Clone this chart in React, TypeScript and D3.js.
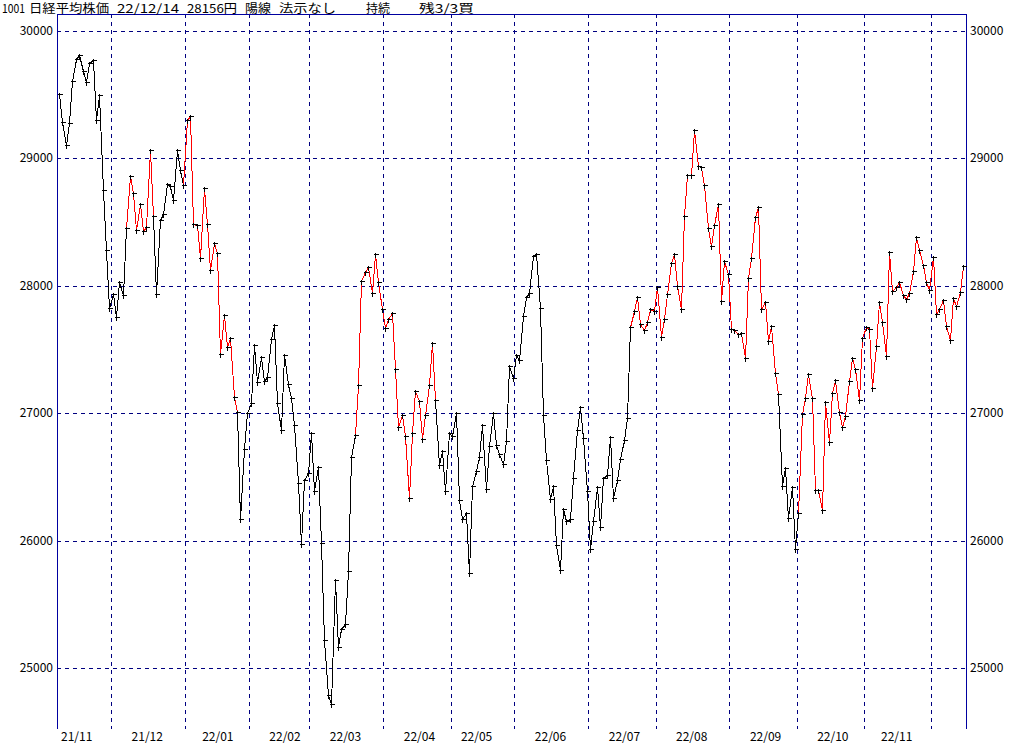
import React from "react";
import * as d3 from "d3";

const monthLabels = ["21/11","21/12","22/01","22/02","22/03","22/04","22/05","22/06","22/07","22/08","22/09","22/10","22/11",""];

const tradingDays: number[][] = [
  [8,9,10,11,12,15,16,17,18,19,22,24,25,26,29,30],
  [1,2,3,6,7,8,9,10,13,14,15,16,17,20,21,22,23,24,27,28,29,30],
  [4,5,6,7,11,12,13,14,17,18,19,20,21,24,25,26,27,28,31],
  [1,2,3,4,7,8,9,10,14,15,16,17,18,21,22,24,25,28],
  [1,2,3,4,7,8,9,10,11,14,15,16,17,18,22,23,24,25,28,29,30,31],
  [1,4,5,6,7,8,11,12,13,14,15,18,19,20,21,22,25,26,27,28],
  [2,6,9,10,11,12,13,16,17,18,19,20,23,24,25,26,27,30,31],
  [1,2,3,6,7,8,9,10,13,14,15,16,17,20,21,22,23,24,27,28,29,30],
  [1,4,5,6,7,8,11,12,13,14,15,19,20,21,22,25,26,27,28,29],
  [1,2,3,4,5,8,9,10,12,15,16,17,18,19,22,23,24,25,26,29,30,31],
  [1,2,5,6,7,8,9,12,13,14,15,16,20,21,22,26,27,28,29,30],
  [3,4,5,6,7,11,12,13,14,17,18,19,20,21,24,25,26,27,28,31],
  [1,2,4,7,8,9,10,11,14,15,16,17,18,21,22,24,25,28,29,30],
  [1,2,5,6,7,8,9,12,13,14],
];

const closes: number[][] = [
  [29507,29285,29106,29278,29610,29777,29808,29688,29598,29745,29774,29302,29499,28752,28284,27822],
  [27935,27753,28030,27927,28456,28860,28725,28437,28640,28432,28459,29066,28545,27937,28517,28562,28798,28782,28676,29069,28906,28792],
  [29302,29332,28488,28479,28222,28766,28489,28124,28334,28257,27467,27773,27522,27588,27131,27011,26170,26717,27002],
  [27078,27534,27241,27440,27249,27285,27580,27696,27080,26865,27460,27233,27122,26911,26450,25971,26477,26527],
  [26845,26393,26577,25985,25221,24791,24718,25690,25163,25308,25346,25762,26653,26827,27224,28040,28110,28150,27944,28252,28027,27821],
  [27666,27736,27788,27350,26889,26986,26822,26335,26843,27172,27093,26800,26985,27218,27553,27105,26591,26700,26387,26848],
  [26819,27004,26319,26167,26214,25749,26428,26547,26660,26911,26403,26739,27002,26748,26678,26605,26782,27369,27280],
  [27458,27414,27762,27916,27944,28234,28247,27824,26987,26630,26326,26431,25963,25771,26246,26150,26171,26492,26871,27049,26805,26393],
  [25936,26154,26423,26108,26491,26517,26812,26337,26479,26643,26788,26962,27680,27803,27915,27699,27655,27716,27815,27802],
  [27993,27595,27742,27932,28176,28249,28000,27819,28547,28872,28869,29223,28942,28930,28795,28453,28313,28479,28641,27879,28196,28092],
  [27661,27651,27620,27627,27430,28065,28215,28542,28615,27819,27876,27568,27688,27313,27154,26432,26572,26174,26422,25937],
  [26216,26992,27121,27311,27116,26401,26397,26237,27091,26776,27156,27257,27007,26891,26975,27250,27432,27345,27105,27587],
  [27679,27663,27200,27528,27872,27716,27446,28264,27963,27990,28028,27931,27900,27945,28116,28383,28283,28163,28028,27969],
  [28226,27778,27820,27886,27686,27574,27901,27842,27955,28156],
];

// colour of the segment that ends at each point: k = black, r = red
const segmentColors: string[] = [
  "kkkkkkkkkkkkkkkk",
  "kkkkkrrrrrrrrkkkkkkkkk",
  "rrrrrrrrrrrrrrrrkkk",
  "kkkkkkkkkkkkkkkkkk",
  "kkkkkkkkkkkkkkrrrrrrrr",
  "rrrrrrrrrrrrrrrrkkkk",
  "kkkkkkkkkkkkkkkkkkk",
  "kkkkkkkkkkkkkkkkkkkkkk",
  "kkkkkkkkkkkkkrrrrrrr",
  "rrrrrrrrrrrrrrrrrrrrrr",
  "rrrrrrrrrrrrrrrkkkkk",
  "krrrrrrrrrrrrrrrrrrr",
  "rrrrrrrrrrrrrrrrrrrr",
  "rrrrrrrrrr",
];

const yTicks = [25000, 26000, 27000, 28000, 29000, 30000];

const headerTexts = ["1001", "日経平均株価", "22/12/14", "28156円", "陽線", "法示なし", "持続", "残3/3買"];

const W = 1024;
const H = 745;
const left = 57;
const right = 966;
const top = 14;
const bottom = 729;
const headerX = [2, 29, 117, 187, 245, 279, 366, 419];
const headerW = [23, 80, 62, 50, 26, 57, 24, 55];

export default function App() {
  const values = closes.flat();
  const cols = segmentColors.join("");
  const n = values.length;
  const x = d3.scaleLinear().domain([0, n - 1]).range([59, 963]);
  const y = d3.scaleLinear().domain([25000, 30000]).range([668, 31]);

  const monthStart: number[] = [];
  let acc = 0;
  tradingDays.forEach((d) => {
    monthStart.push(acc);
    acc += d.length;
  });

  const rx = (v: number) => Math.round(v);
  const line = d3.line<number>().x((d) => rx(x(d)) + 0.5).y((d) => rx(y(values[d])) + 0.5);
  const segs = [] as React.ReactElement[];
  for (let i = 1; i < n; i++) {
    segs.push(
      <path
        key={"s" + i}
        d={line([i - 1, i]) || ""}
        stroke={cols[i] === "r" ? "#ff0000" : "#000000"}
        strokeWidth={1}
        fill="none"
        shapeRendering="crispEdges"
      />
    );
  }

  const markers = values.map((v, i) => {
    const cx = rx(x(i)) + 0.5;
    const cy = rx(y(v)) + 0.5;
    return (
      <path
        key={"m" + i}
        d={`M${cx - 2},${cy}H${cx + 3}M${cx},${cy - 2}V${cy + 3}`}
        stroke="#000"
        strokeWidth={1}
        shapeRendering="crispEdges"
      />
    );
  });

  const monthLines = monthStart.slice(1).map((s, i) => {
    const lx = rx(x(s - 0.5)) + 0.5;
    return (
      <line key={"v" + i} x1={lx} x2={lx} y1={top} y2={bottom} stroke="#000080" strokeDasharray="4,4" shapeRendering="crispEdges" />
    );
  });

  const labels = monthLabels.map((lab, m) => {
    if (!lab) return null;
    const days = tradingDays[m];
    let k = days.findIndex((d) => d >= 8);
    if (k < 0) k = 0;
    const lx = x(monthStart[m] + k) + 2;
    return (
      <text key={"l" + m} x={lx} y={741} fontSize={12} fill="#000">
        {lab}
      </text>
    );
  });

  return (
    <svg
      width={W}
      height={H}
      style={{ position: "absolute", left: 0, top: 0, background: "#fff" }}
      fontFamily="'Noto Sans CJK JP', sans-serif"
    >
      <rect x={0} y={0} width={W} height={H} fill="#fff" />
      {yTicks.map((t) => (
        <line key={"h" + t} x1={left} x2={right} y1={rx(y(t)) + 0.5} y2={rx(y(t)) + 0.5} stroke="#000080" strokeDasharray="4,4" shapeRendering="crispEdges" />
      ))}
      {monthLines}
      <line x1={left + 0.5} x2={left + 0.5} y1={top} y2={bottom} stroke="#0000a0" shapeRendering="crispEdges" />
      <line x1={right + 0.5} x2={right + 0.5} y1={top} y2={bottom} stroke="#0000a0" shapeRendering="crispEdges" />
      <line x1={left} x2={right + 1} y1={top + 0.5} y2={top + 0.5} stroke="#0000a0" shapeRendering="crispEdges" />
      {yTicks.map((t) => (
        <text key={"yl" + t} x={53} y={rx(y(t)) + 4} fontSize={12} textAnchor="end" fill="#000">
          {t}
        </text>
      ))}
      {yTicks.map((t) => (
        <text key={"yr" + t} x={970} y={rx(y(t)) + 4} fontSize={12} textAnchor="start" fill="#000">
          {t}
        </text>
      ))}
      {segs}
      {markers}
      {labels}
      {headerTexts.map((s, i) => (
        <text
          key={"hd" + i}
          x={headerX[i]}
          y={12.5}
          fontSize={12}
          textLength={headerW[i]}
          lengthAdjust="spacingAndGlyphs"
          fill="#000"
        >
          {s}
        </text>
      ))}
    </svg>
  );
}
